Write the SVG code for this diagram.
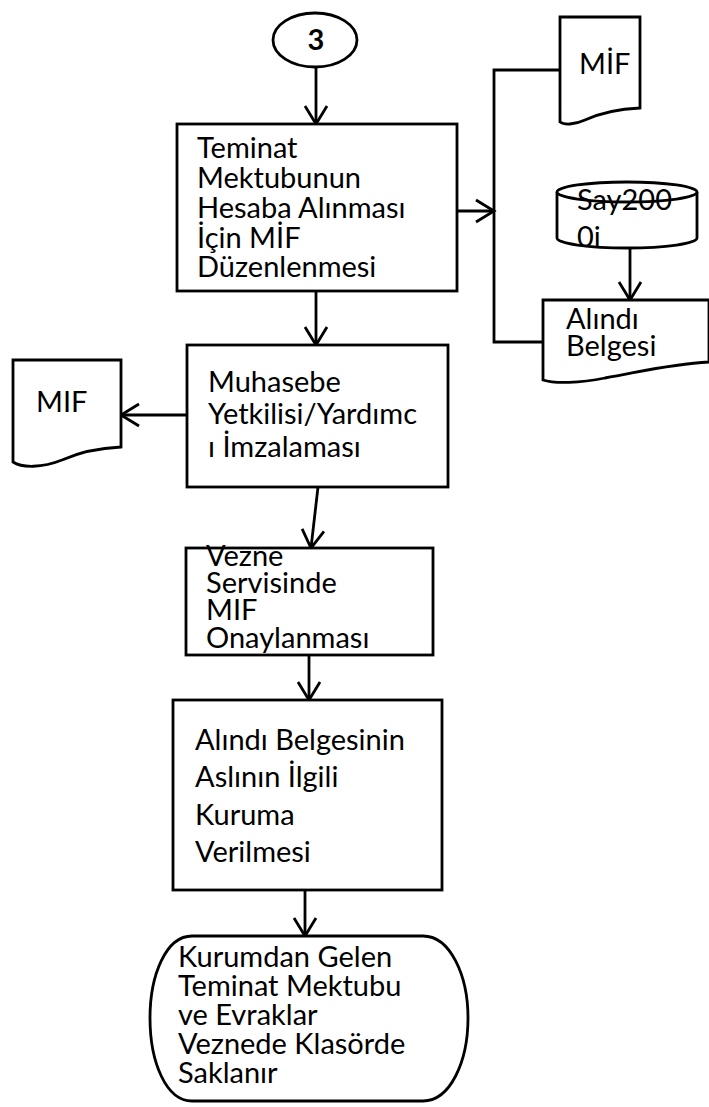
<svg xmlns="http://www.w3.org/2000/svg" width="709" height="1107" viewBox="0 0 709 1107">
<style>
.s{fill:#fff;stroke:#000;stroke-width:2.8}
.c{fill:none;stroke:#000;stroke-width:2.8}
.t{font-family:Lato,"Open Sans",sans-serif;font-size:29px;fill:#000}
</style>
<defs>
<marker id="a" viewBox="0 0 24 26" refX="21" refY="13" markerWidth="24" markerHeight="26" markerUnits="userSpaceOnUse" orient="auto">
<path d="M3,2 L21,13 L3,24" fill="none" stroke="#000" stroke-width="2.8"/>
</marker>
</defs>
<rect width="709" height="1107" fill="#fff"/>
<g id="connectors">
<line class="c" x1="316" y1="67" x2="316" y2="124" marker-end="url(#a)"/>
<line class="c" x1="316" y1="291" x2="316" y2="345" marker-end="url(#a)"/>
<line class="c" x1="457" y1="211" x2="494" y2="211" marker-end="url(#a)"/>
<polyline class="c" points="560,70 494,70 494,342 543,342"/>
<line class="c" x1="630" y1="248" x2="630" y2="300" marker-end="url(#a)"/>
<line class="c" x1="187" y1="415" x2="121" y2="415" marker-end="url(#a)"/>
<line class="c" x1="318" y1="487" x2="311" y2="548" marker-end="url(#a)"/>
<line class="c" x1="309" y1="655" x2="309" y2="700" marker-end="url(#a)"/>
<line class="c" x1="305" y1="890" x2="305" y2="936" marker-end="url(#a)"/>
</g>
<g id="start">
<ellipse class="s" cx="315" cy="40" rx="42" ry="27"/>
<text class="t" x="316" y="50" text-anchor="middle" font-size="28" font-weight="bold">3</text>
</g>
<g id="box1">
<rect class="s" x="177" y="124" width="280" height="167"/>
<text class="t"><tspan x="197" y="158">Teminat</tspan><tspan x="197" y="188">Mektubunun</tspan><tspan x="197" y="218">Hesaba Alınması</tspan><tspan x="197" y="248">İçin MİF</tspan><tspan x="197" y="277">Düzenlenmesi</tspan></text>
</g>
<g id="doc-mif-right">
<path class="s" d="M560,17 H640 V108 C618,109 598,114 585,120 C574,125 564,125 560,122 Z"/>
<text class="t" x="579" y="74">MİF</text>
</g>
<g id="db-say2000i">
<path class="s" d="M557,192 V238 A70,10 0 0 0 697,238 V192"/>
<ellipse class="s" cx="627" cy="192" rx="70" ry="10"/>
<text class="t" x="577" y="210" font-size="28">Say200</text>
<text class="t" x="577" y="247" font-size="28">0i</text>
</g>
<g id="doc-alindi">
<path class="s" d="M543,300 H709 V362 C670,364 640,372 605,378 C580,383 555,384 543,380 Z"/>
<text class="t" x="566" y="329" font-size="27">Alındı</text>
<text class="t" x="566" y="356" font-size="27">Belgesi</text>
</g>
<g id="box2">
<rect class="s" x="187" y="345" width="261" height="142"/>
<text class="t" font-size="30"><tspan x="208" y="392">Muhasebe</tspan><tspan x="208" y="424">Yetkilisi/Yardımc</tspan><tspan x="208" y="457">ı İmzalaması</tspan></text>
</g>
<g id="doc-mif-left">
<path class="s" d="M13,360 H121 V447 C100,448 80,452 62,460 C42,468 22,468 13,462 Z"/>
<text class="t" x="36" y="412">MIF</text>
</g>
<g id="box3">
<rect class="s" x="186" y="548" width="247" height="107"/>
<text class="t" font-size="28"><tspan x="206" y="566">Vezne</tspan><tspan x="206" y="593">Servisinde</tspan><tspan x="206" y="620">MIF</tspan><tspan x="206" y="648">Onaylanması</tspan></text>
</g>
<g id="box4">
<rect class="s" x="173" y="700" width="269" height="190"/>
<text class="t"><tspan x="195" y="750">Alındı Belgesinin</tspan><tspan x="195" y="787">Aslının İlgili</tspan><tspan x="195" y="825">Kuruma</tspan><tspan x="195" y="862">Verilmesi</tspan></text>
</g>
<g id="end">
<path class="s" d="M192,936 H423 C450,936 468,975 468,1018 C468,1062 450,1101 423,1101 H192 C166,1101 150,1062 150,1018 C150,975 166,936 192,936 Z"/>
<text class="t" font-size="30"><tspan x="178" y="967">Kurumdan Gelen</tspan><tspan x="178" y="996">Teminat Mektubu</tspan><tspan x="178" y="1025">ve Evraklar</tspan><tspan x="178" y="1054">Veznede Klasörde</tspan><tspan x="178" y="1083">Saklanır</tspan></text>
</g>
</svg>
